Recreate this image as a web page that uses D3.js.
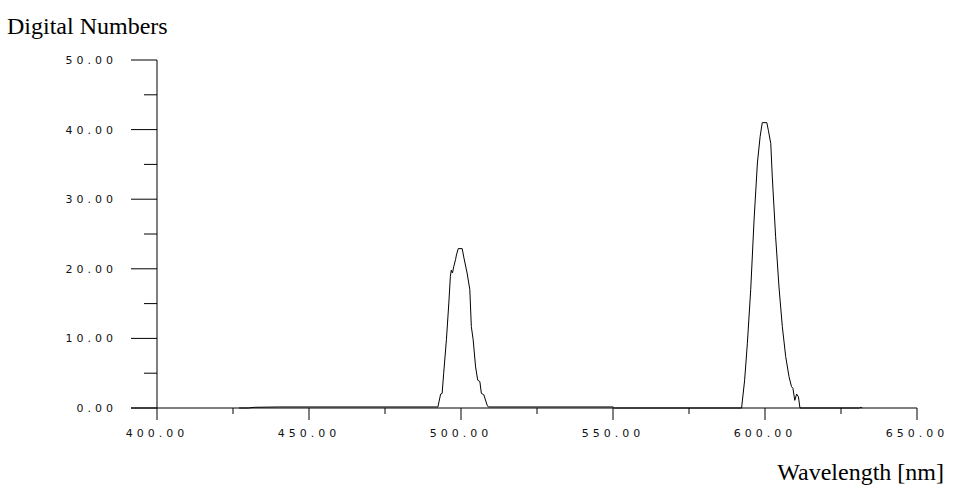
<!DOCTYPE html>
<html>
<head>
<meta charset="utf-8">
<script src="https://cdn.jsdelivr.net/npm/d3@7"></script>
<style>
  body { margin: 0; background: #fff; }
</style>
</head>
<body>
<div id="container"></div>
<script>
var width = 953;
var height = 487;

// spectrum
var wavelengths = [427, 430, 432, 440, 492.4, 493.3, 493.8, 494.3, 495.2, 496.0, 496.5, 496.8, 497.2, 497.6,
    498.2, 498.5, 499.1, 500.4, 500.9, 502.0, 502.9, 503.4, 504.0, 504.8, 505.5, 506.2, 506.7, 507.5,
    508.6, 509.0, 550, 550.5, 592.3, 593.3, 594.2, 595.3, 596.4, 597.5, 598.4, 599.1, 600.6, 601.1,
    601.9, 602.4, 603.5, 604.6, 605.7, 606.8, 607.9, 608.7, 609.2, 609.8, 610.4, 611.0, 611.5, 631, 631.5, 632];
var values = [0, 0, 0.1, 0.15, 0.15, 2.0, 2.1, 5.0, 9.8, 15.1, 18.9, 19.8, 19.4, 20.3,
    21.3, 22.0, 22.9, 22.9, 21.7, 19.4, 17.0, 11.7, 9.8, 5.9, 4.0, 3.8, 2.1, 1.9,
    0.4, 0.15, 0.15, 0, 0, 4.0, 9.3, 17.0, 27.0, 35.2, 39.0, 41.0, 41.0, 39.9,
    38.0, 33.2, 24.6, 17.4, 11.7, 7.4, 4.5, 3.1, 2.8, 1.1, 2.0, 1.6, 0, 0, 0.1, 0];

var xMajor = [400, 450, 500, 550, 600, 650];
var xMinor = [425, 475, 525, 575, 625];
var yMajor = [0, 10, 20, 30, 40, 50];
var yMinor = [5, 15, 25, 35, 45];

var xScale = d3.scaleLinear().domain([400, 650]).range([157, 917]);
var yScale = d3.scaleLinear().domain([0, 50]).range([408, 60]);

var svg = d3.select("#container")
    .append("svg")
    .attr("width", width)
    .attr("height", height);

var tickFont = "'DejaVu Sans', sans-serif";

// x axis
svg.append("line")
    .attr("x1", 131).attr("x2", xScale(650))
    .attr("y1", yScale(0)).attr("y2", yScale(0))
    .attr("stroke", "#000");

svg.selectAll(".xmaj")
    .data(xMajor)
    .enter()
    .append("line")
    .attr("x1", function (d) { return xScale(d); })
    .attr("x2", function (d) { return xScale(d); })
    .attr("y1", yScale(0))
    .attr("y2", yScale(0) + 12)
    .attr("stroke", "#000");

svg.selectAll(".xmin")
    .data(xMinor)
    .enter()
    .append("line")
    .attr("x1", function (d) { return xScale(d); })
    .attr("x2", function (d) { return xScale(d); })
    .attr("y1", yScale(0))
    .attr("y2", yScale(0) + 6)
    .attr("stroke", "#000");

svg.selectAll(".xlab")
    .data(xMajor)
    .enter()
    .append("text")
    .attr("x", function (d) { return xScale(d); })
    .attr("y", 437)
    .attr("text-anchor", "middle")
    .attr("font-family", tickFont)
    .attr("font-size", "11px")
    .attr("letter-spacing", "4px")
    .attr("fill", "#111")
    .text(function (d) { return d.toFixed(2); });

// y axis
svg.append("line")
    .attr("x1", 157).attr("x2", 157)
    .attr("y1", yScale(50)).attr("y2", yScale(0))
    .attr("stroke", "#000");

svg.selectAll(".ymaj")
    .data(yMajor)
    .enter()
    .append("line")
    .attr("x1", 131)
    .attr("x2", 157)
    .attr("y1", function (d) { return yScale(d); })
    .attr("y2", function (d) { return yScale(d); })
    .attr("stroke", "#000");

svg.selectAll(".ymin")
    .data(yMinor)
    .enter()
    .append("line")
    .attr("x1", 144)
    .attr("x2", 157)
    .attr("y1", function (d) { return yScale(d); })
    .attr("y2", function (d) { return yScale(d); })
    .attr("stroke", "#000");

svg.selectAll(".ylab")
    .data(yMajor)
    .enter()
    .append("text")
    .attr("x", 117)
    .attr("y", function (d) { return yScale(d) + 4; })
    .attr("text-anchor", "end")
    .attr("font-family", tickFont)
    .attr("font-size", "11px")
    .attr("letter-spacing", "4px")
    .attr("fill", "#111")
    .text(function (d) { return d.toFixed(2); });

// spectrum
var line = d3.line()
    .x(function (d, i) { return xScale(wavelengths[i]); })
    .y(function (d) { return yScale(d); });

svg.append("path")
    .datum(values)
    .attr("d", line)
    .attr("fill", "none")
    .attr("stroke", "#000")
    .attr("stroke-width", 1);

// axis titles
svg.append("text")
    .attr("x", 7)
    .attr("y", 34)
    .attr("font-family", "'Liberation Serif', serif")
    .attr("font-size", "24px")
    .attr("fill", "#000")
    .text("Digital Numbers");

svg.append("text")
    .attr("x", 944)
    .attr("y", 480)
    .attr("text-anchor", "end")
    .attr("font-family", "'Liberation Serif', serif")
    .attr("font-size", "24px")
    .attr("fill", "#000")
    .text("Wavelength [nm]");
</script>
</body>
</html>
